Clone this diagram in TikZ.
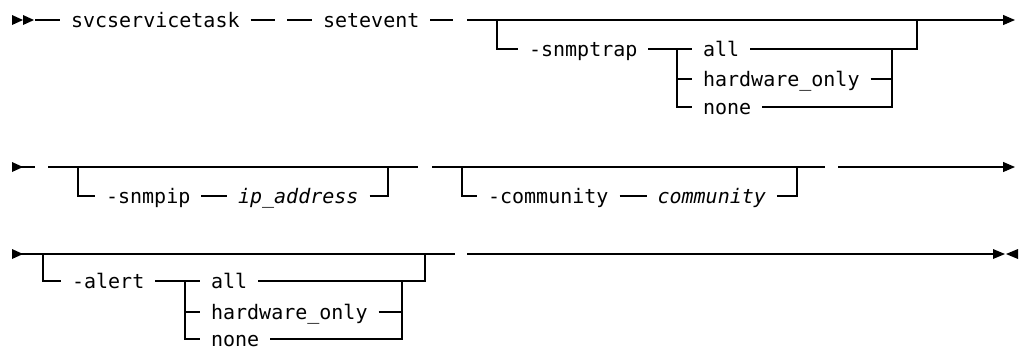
\documentclass[tikz,border=0pt]{standalone}
\usepackage{fontspec}
\setmonofont{DejaVu Sans Mono}
\usetikzlibrary{arrows.meta}

\begin{document}
\begin{tikzpicture}[
			x=1pt, y=-1pt,
			line width=1.1pt,
			tok/.style = {anchor=west, inner xsep=10.5pt, inner ysep=0pt,
				text height=14pt, text depth=0pt,
				font=\ttfamily\fontsize{20}{24}\selectfont},
			var/.style = {tok, font=\ttfamily\itshape\fontsize{20}{24}\selectfont},
			tip/.style = {-{Triangle[length=12pt, width=10pt]}}
		]
		\useasboundingbox (0,0) rectangle (1021,349);
		% Row one.
		\coordinate (s1) at (12,20);
		\coordinate (s1b) at (35,20);
		\coordinate (d1) at (275,20);
		\coordinate (d2) at (287,20);
		\coordinate (d3) at (453,20);
		\coordinate (j1) at (467,20);
		\coordinate (b1) at (497,20);
		\coordinate (k1) at (677,49);
		\coordinate (p1) at (892,49);
		\coordinate (m1) at (917,20);
		\coordinate (e1) at (1015,20);
		\node[tok] (svc) at (60,20) {svcservicetask};
		\node[tok] (set) at (312,20) {setevent};
		\node[tok] (trap) at (518,49) {-snmptrap};
		\node[tok] (all1) at (692,49) {all};
		\node[tok] (hw1) at (692,79) {hardware\_only};
		\node[tok] (none1) at (692,107) {none};
		\fill (s1) ++(0,-5) -- ++(11,5) -- ++(-11,5) -- cycle;
		\fill (s1) ++(11,-5) -- ++(11,5) -- ++(-11,5) -- cycle;
		\draw (s1b) -- (svc.west);
		\draw (svc.east) -- (d1);
		\draw (d2) -- (set.west);
		\draw (set.east) -- (d3);
		\draw[tip] (j1) -- (e1);
		\draw (b1) |- (trap.west);
		\draw (trap.east) -- (k1) |- (none1.west);
		\draw (k1) -- (all1.west);
		\draw (k1 |- hw1.west) -- (hw1.west);
		\draw (all1.east) -| (m1);
		\draw (none1.east) -| (p1);
		\draw (hw1.east) -- (hw1.east -| p1);
		% Row two.
		\coordinate (s2) at (12,167);
		\coordinate (s2b) at (35,167);
		\coordinate (a2) at (48,167);
		\coordinate (a2e) at (418,167);
		\coordinate (b2) at (78,167);
		\coordinate (q2) at (388,167);
		\coordinate (c2) at (432,167);
		\coordinate (c2e) at (825,167);
		\coordinate (b3) at (462,167);
		\coordinate (q3) at (797,167);
		\coordinate (j2) at (838,167);
		\coordinate (e2) at (1015,167);
		\node[tok] (snmpip) at (95,196) {-snmpip};
		\node[var] (ipaddr) at (227,196) {ip\_address};
		\node[tok] (cmty) at (477,196) {-community};
		\node[var] (cmtyv) at (646.5,196) {community};
		\fill (s2) ++(0,-5) -- ++(11,5) -- ++(-11,5) -- cycle;
		\draw (s2) -- (s2b);
		\draw (a2) -- (a2e);
		\draw (b2) |- (snmpip.west);
		\draw (snmpip.east) -- (ipaddr.west);
		\draw (ipaddr.east) -| (q2);
		\draw (c2) -- (c2e);
		\draw (b3) |- (cmty.west);
		\draw (cmty.east) -- (cmtyv.west);
		\draw (cmtyv.east) -| (q3);
		\draw[tip] (j2) -- (e2);
		% Row three.
		\coordinate (s3) at (12,254);
		\coordinate (a3e) at (455,254);
		\coordinate (b4) at (43,254);
		\coordinate (k3) at (185,281);
		\coordinate (p3) at (402,281);
		\coordinate (m3) at (425,254);
		\coordinate (j3) at (467,254);
		\coordinate (e3) at (993,254);
		\node[tok] (alert) at (61,281) {-alert};
		\node[tok] (all3) at (200,281) {all};
		\node[tok] (hw3) at (200,312) {hardware\_only};
		\node[tok] (none3) at (200,339) {none};
		\fill (s3) ++(0,-5) -- ++(11,5) -- ++(-11,5) -- cycle;
		\draw (s3) -- (a3e);
		\draw (b4) |- (alert.west);
		\draw (alert.east) -- (k3) |- (none3.west);
		\draw (k3) -- (all3.west);
		\draw (k3 |- hw3.west) -- (hw3.west);
		\draw (all3.east) -| (m3);
		\draw (none3.east) -| (p3);
		\draw (hw3.east) -- (hw3.east -| p3);
		\draw (j3) -- (e3);
		\fill (e3) ++(0,-5) -- ++(12,5) -- ++(-12,5) -- cycle;
		\fill (e3) ++(25,-5) -- ++(-12,5) -- ++(12,5) -- cycle;
	\end{tikzpicture}
\end{document}
